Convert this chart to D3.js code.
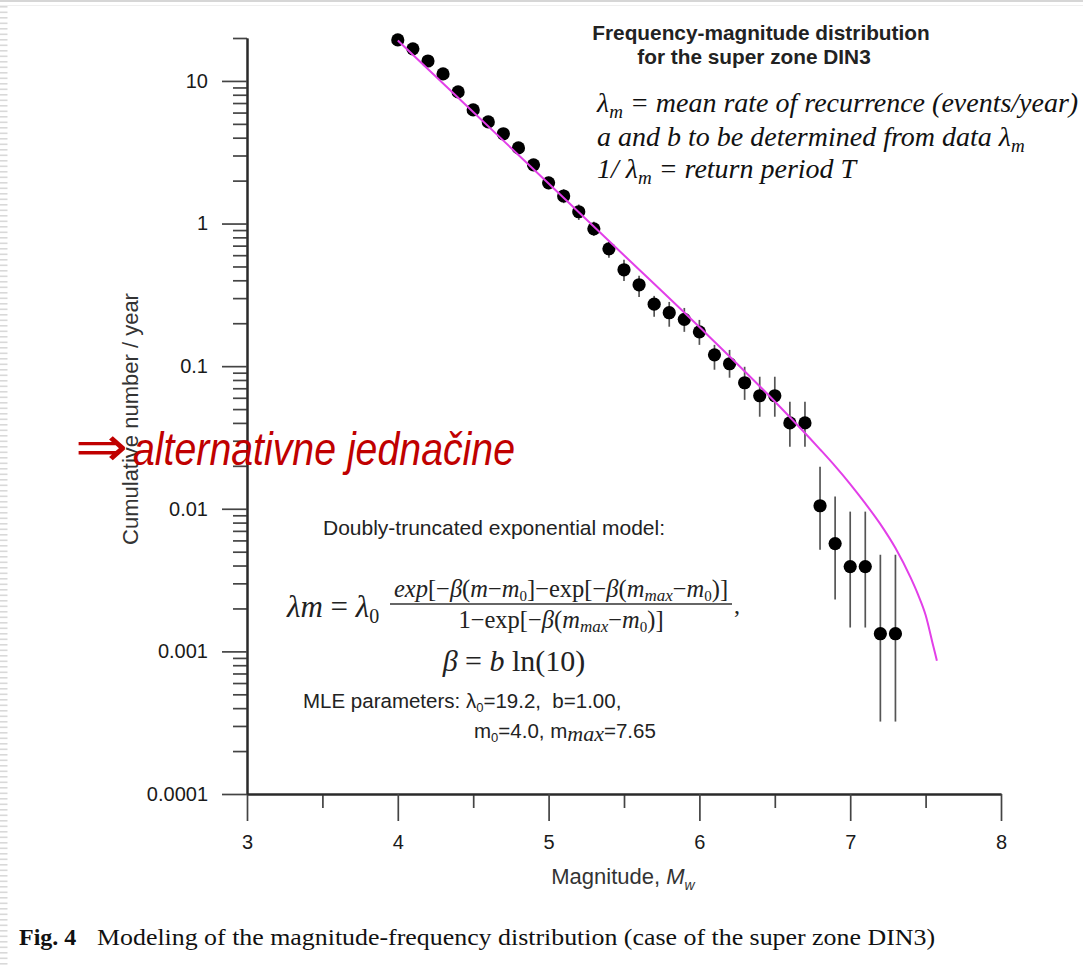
<!DOCTYPE html>
<html>
<head>
<meta charset="utf-8">
<script src="https://cdn.jsdelivr.net/npm/d3@7"></script>
<style>
  body { margin: 0; background: #fff; }
  svg { display: block; }
  text { white-space: pre; }
</style>
</head>
<body>
<div id="chart"></div>
<script>
// magnitudes of the observed points
var magnitudes = [4.0, 4.1, 4.2, 4.3, 4.4, 4.5, 4.6, 4.7, 4.8, 4.9, 5.0, 5.1, 5.2, 5.3, 5.4, 5.5, 5.6,
    5.7, 5.8, 5.9, 6.0, 6.1, 6.2, 6.3, 6.4, 6.5, 6.6, 6.7, 6.8, 6.9, 7.0, 7.1, 7.2, 7.3];
// cumulative number / year
var rates = [19.4, 16.8, 13.8, 11.2, 8.37, 6.26, 5.16, 4.26, 3.39, 2.58, 1.93, 1.56, 1.21, 0.918, 0.665, 0.474, 0.372,
    0.272, 0.237, 0.213, 0.174, 0.120, 0.104, 0.0765, 0.062, 0.062, 0.040, 0.040, 0.0105, 0.0057, 0.00393, 0.00393, 0.00133, 0.00133];
var errHigh = [20.5, 17.8, 14.6, 11.9, 8.9, 6.7, 5.55, 4.6, 3.68, 2.83, 2.13, 1.74, 1.36, 1.03, 0.745, 0.557, 0.43,
    0.311, 0.282, 0.256, 0.211, 0.141, 0.130, 0.099, 0.0843, 0.0843, 0.0564, 0.0564, 0.0197, 0.0122, 0.00955, 0.00955, 0.00476, 0.00476];
var errLow = [18.3, 15.8, 13.0, 10.5, 7.85, 5.85, 4.8, 3.93, 3.1, 2.35, 1.74, 1.39, 1.06, 0.82, 0.575, 0.396, 0.306,
    0.222, 0.189, 0.174, 0.141, 0.0944, 0.083, 0.058, 0.0442, 0.0442, 0.0272, 0.0272, 0.00516, 0.00231, 0.00147, 0.00147, 0.000322, 0.000322];

// doubly-truncated exponential model curve
var curveM = [4.0, 4.5, 5.0, 5.5, 6.0, 6.5, 6.8, 6.9, 7.0, 7.1, 7.2, 7.3, 7.4, 7.45, 7.5, 7.55, 7.575];
var curveRate = [19.2, 6.05, 1.91, 0.60, 0.188, 0.0565, 0.0261, 0.0199, 0.0149, 0.0109, 0.0078, 0.0053, 0.0033, 0.0025, 0.0018, 0.0011, 0.00086];

var xMajorTicks = [3, 4, 5, 6, 7, 8];
var xMinorTicks = [3.5, 4.5, 5.5, 6.5, 7.5];
var yMajorTicks = [0.0001, 0.001, 0.01, 0.1, 1, 10];
var yTickLabels = ["0.0001", "0.001", "0.01", "0.1", "1", "10"];

var sans = "'Liberation Sans', Arial, sans-serif";
var serif = "'Liberation Serif', 'Times New Roman', serif";

var width = 1083, height = 965;

var svg = d3.select("#chart").append("svg")
    .attr("width", width)
    .attr("height", height);

// slide frame decoration
svg.append("rect").attr("x", 0).attr("y", 0).attr("width", width).attr("height", 2).attr("fill", "#d6d6d6");
svg.append("rect").attr("x", 0).attr("y", 5).attr("width", width).attr("height", 1).attr("fill", "#efefef");
svg.selectAll("rect.stripe")
    .data(d3.range(6, height, 5.5))
    .enter().append("rect")
    .attr("class", "stripe")
    .attr("x", 0).attr("y", function(d) { return d; })
    .attr("width", 7.5).attr("height", 1.6)
    .attr("fill", "#d9d9d9");

// scales
var x = d3.scaleLinear().domain([3, 8]).range([247, 1001]);
var y = d3.scaleLog().domain([0.0001, 20]).range([794, 38]);

var yMinorTicks = [];
[0.0001, 0.001, 0.01, 0.1, 1].forEach(function(dec) {
    for (var k = 2; k <= 9; k++) yMinorTicks.push(dec * k);
});
yMinorTicks.push(20);

// axes
var xMinor = svg.append("g").attr("transform", "translate(0,794)")
    .call(d3.axisBottom(x).tickValues(xMinorTicks).tickSize(14).tickSizeOuter(0).tickFormat(""));
var xMajor = svg.append("g").attr("transform", "translate(0,794)")
    .call(d3.axisBottom(x).tickValues(xMajorTicks).tickSize(27).tickSizeOuter(0).tickPadding(14)
        .tickFormat(function(d) { return d; }));

var yMinor = svg.append("g").attr("transform", "translate(247,0)")
    .call(d3.axisLeft(y).tickValues(yMinorTicks).tickSize(14).tickSizeOuter(0).tickFormat(""));
var yMajor = svg.append("g").attr("transform", "translate(247,0)")
    .call(d3.axisLeft(y).tickValues(yMajorTicks).tickSize(25).tickSizeOuter(0).tickPadding(14)
        .tickFormat(function(d, i) { return yTickLabels[i]; }));

[xMinor, xMajor, yMinor, yMajor].forEach(function(ax) {
    ax.select(".domain").attr("stroke", "#2a2a2a").attr("stroke-width", 2);
    ax.selectAll(".tick line").attr("stroke", "#444").attr("stroke-width", 1.7);
    ax.selectAll(".tick text")
        .attr("fill", "#1a1a1a")
        .style("font-family", sans)
        .style("font-size", "20px");
});

// axis titles
svg.append("text")
    .attr("transform", "translate(138,419) rotate(-90)")
    .attr("text-anchor", "middle")
    .attr("fill", "#333")
    .style("font-family", sans)
    .style("font-size", "22px")
    .text("Cumulative number / year");

var xLab = svg.append("text")
    .attr("x", 623).attr("y", 884)
    .attr("text-anchor", "middle")
    .attr("fill", "#333")
    .style("font-family", sans)
    .style("font-size", "22px");
xLab.append("tspan").text("Magnitude, ");
xLab.append("tspan").style("font-style", "italic").text("M");
xLab.append("tspan").style("font-style", "italic").style("font-size", "14px").attr("dy", 6).text("w");

// error bars
var pts = magnitudes.map(function(m, i) {
    return {m: m, v: rates[i], hi: errHigh[i], lo: errLow[i]};
});

svg.selectAll("line.err")
    .data(pts)
    .enter().append("line")
    .attr("class", "err")
    .attr("x1", function(d) { return x(d.m); })
    .attr("x2", function(d) { return x(d.m); })
    .attr("y1", function(d) { return y(d.hi); })
    .attr("y2", function(d) { return y(d.lo); })
    .attr("stroke", "#555")
    .attr("stroke-width", 1.7);

svg.selectAll("circle.pt")
    .data(pts)
    .enter().append("circle")
    .attr("class", "pt")
    .attr("cx", function(d) { return x(d.m); })
    .attr("cy", function(d) { return y(d.v); })
    .attr("r", 6.6)
    .attr("fill", "#000");

// model curve
var line = d3.line()
    .x(function(d) { return x(d[0]); })
    .y(function(d) { return y(d[1]); })
    .curve(d3.curveMonotoneX);

svg.append("path")
    .datum(curveM.map(function(m, i) { return [m, curveRate[i]]; }))
    .attr("d", line)
    .attr("fill", "none")
    .attr("stroke", "#e23fe8")
    .attr("stroke-width", 2);

// helper for text runs with sub/superscripts
function richText(parent, px, py, runs, opts) {
    var t = parent.append("text")
        .attr("x", px).attr("y", py)
        .attr("fill", opts.fill || "#222")
        .attr("text-anchor", opts.anchor || "start")
        .style("font-family", opts.font)
        .style("font-size", opts.size + "px");
    if (opts.italic) t.style("font-style", "italic");
    var shift = 0;
    runs.forEach(function(r) {
        var s = r.sub || 0;
        var ts = t.append("tspan").text(r.t).attr("dy", s - shift);
        shift = s;
        if (r.i === true) ts.style("font-style", "italic");
        if (r.i === false) ts.style("font-style", "normal");
        if (r.size) ts.style("font-size", r.size + "px");
        if (r.font) ts.style("font-family", r.font);
    });
    return t;
}

// title
svg.append("text").attr("x", 761).attr("y", 40).attr("text-anchor", "middle")
    .attr("fill", "#222").style("font-family", sans).style("font-size", "20.8px").style("font-weight", "bold")
    .text("Frequency-magnitude distribution");
svg.append("text").attr("x", 754).attr("y", 64).attr("text-anchor", "middle")
    .attr("fill", "#222").style("font-family", sans).style("font-size", "20.8px").style("font-weight", "bold")
    .text("for the super zone DIN3");

// definitions, top right
richText(svg, 597, 112, [{t: "λ"}, {t: "m", sub: 6, size: 19}, {t: " = mean rate of recurrence (events/year)"}],
    {font: serif, size: 28, italic: true, fill: "#111"});
richText(svg, 597, 146, [{t: "a and b to be determined from data λ"}, {t: "m", sub: 6, size: 19}],
    {font: serif, size: 28, italic: true, fill: "#111"});
richText(svg, 597, 178, [{t: "1/ λ"}, {t: "m", sub: 6, size: 19}, {t: " = return period T"}],
    {font: serif, size: 28, italic: true, fill: "#111"});

// red annotation
svg.append("text").attr("x", 75).attr("y", 466)
    .attr("fill", "#c00000").style("font-family", "'DejaVu Sans', sans-serif").style("font-size", "56px")
    .attr("textLength", 53).attr("lengthAdjust", "spacingAndGlyphs")
    .text("⇒");
svg.append("text").attr("x", 133).attr("y", 465)
    .attr("fill", "#c00000").style("font-family", sans).style("font-size", "46px").style("font-style", "italic")
    .attr("textLength", 382).attr("lengthAdjust", "spacingAndGlyphs")
    .text("alternativne jednačine");

// model description
svg.append("text").attr("x", 323).attr("y", 535)
    .attr("fill", "#222").style("font-family", sans).style("font-size", "21px")
    .text("Doubly-truncated exponential model:");

richText(svg, 287, 617, [{t: "λm", i: true}, {t: " = "}, {t: "λ", i: true}, {t: "0", sub: 6, size: 20}],
    {font: serif, size: 31, fill: "#222"});

richText(svg, 561, 597, [
    {t: "exp", i: true}, {t: "[−"}, {t: "β", i: true}, {t: "("}, {t: "m", i: true}, {t: "−"}, {t: "m", i: true},
    {t: "0", sub: 4, size: 15}, {t: "]−exp[−"}, {t: "β", i: true}, {t: "("}, {t: "m", i: true},
    {t: "max", i: true, sub: 4, size: 17}, {t: "−"}, {t: "m", i: true}, {t: "0", sub: 4, size: 15}, {t: ")]"}
], {font: serif, size: 24.5, anchor: "middle", fill: "#222"});

svg.append("line").attr("x1", 390).attr("x2", 732).attr("y1", 604).attr("y2", 604)
    .attr("stroke", "#333").attr("stroke-width", 1.5);

richText(svg, 561, 628, [
    {t: "1−exp[−"}, {t: "β", i: true}, {t: "("}, {t: "m", i: true}, {t: "max", i: true, sub: 4, size: 17},
    {t: "−"}, {t: "m", i: true}, {t: "0", sub: 4, size: 15}, {t: ")]"}
], {font: serif, size: 24.5, anchor: "middle", fill: "#222"});

svg.append("text").attr("x", 734).attr("y", 613).attr("fill", "#222")
    .style("font-family", serif).style("font-size", "24px").text(",");

richText(svg, 514, 671, [{t: "β", i: true}, {t: " = "}, {t: "b", i: true}, {t: " ln(10)"}],
    {font: serif, size: 30, anchor: "middle", fill: "#222"});

richText(svg, 303, 708, [{t: "MLE parameters: λ"}, {t: "0", sub: 4, size: 13}, {t: "=19.2,  b=1.00,"}],
    {font: sans, size: 20.5, fill: "#222"});
richText(svg, 474, 738, [{t: "m"}, {t: "0", sub: 4, size: 13}, {t: "=4.0, m"},
    {t: "max", i: true, sub: 3, font: serif, size: 22}, {t: "=7.65"}],
    {font: sans, size: 20.5, fill: "#222"});

// caption
svg.append("text").attr("x", 19).attr("y", 945).attr("fill", "#111")
    .style("font-family", serif).style("font-size", "24px").style("font-weight", "bold")
    .text("Fig. 4");
svg.append("text").attr("x", 97).attr("y", 945).attr("fill", "#111")
    .style("font-family", serif).style("font-size", "24px")
    .attr("textLength", 838).attr("lengthAdjust", "spacingAndGlyphs")
    .text("Modeling of the magnitude-frequency distribution (case of the super zone DIN3)");
</script>
</body>
</html>
